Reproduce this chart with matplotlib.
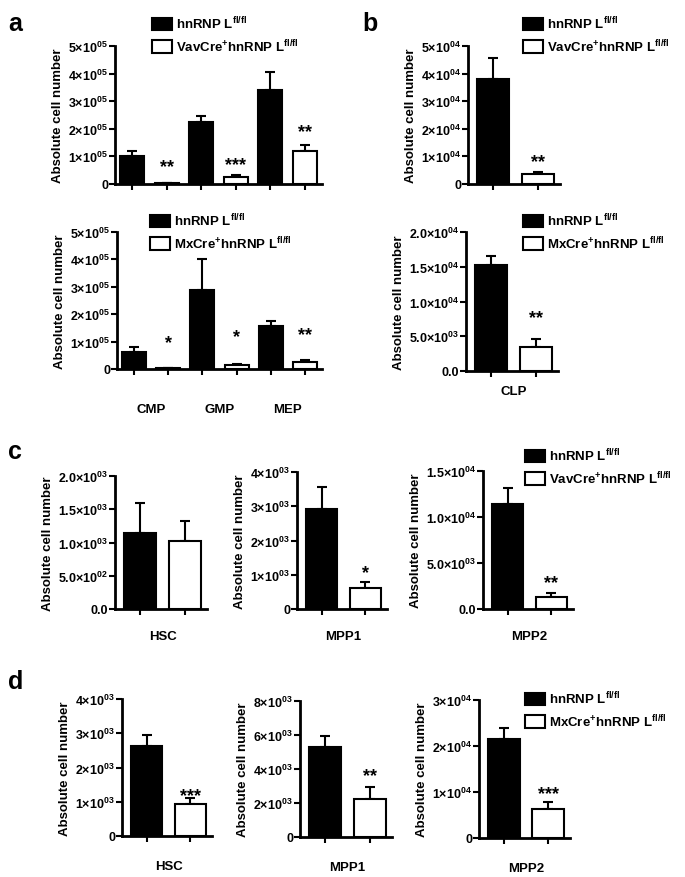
import matplotlib
matplotlib.use('Agg')
import matplotlib.pyplot as plt

plt.rcParams['font.family'] = ['Liberation Sans', 'DejaVu Sans']
plt.rcParams['font.weight'] = 'bold'
plt.rcParams['mathtext.default'] = 'regular'

W, H = 685, 878

# data
a_cats = ['CMP', 'GMP', 'MEP']
a_vav_ctrl = [1.02e5, 2.25e5, 3.41e5]
a_vav_ctrl_sem = [0.18e5, 0.20e5, 0.65e5]
a_vav_ko = [0.02e5, 0.24e5, 1.18e5]
a_vav_ko_sem = [0.0, 0.09e5, 0.25e5]
a_vav_stars = ['**', '***', '**']
a_vav_star_y = [0.62e5, 0.72e5, 1.9e5]

a_mx_ctrl = [0.63e5, 2.90e5, 1.56e5]
a_mx_ctrl_sem = [0.19e5, 1.12e5, 0.20e5]
a_mx_ko = [0.02e5, 0.16e5, 0.24e5]
a_mx_ko_sem = [0.0, 0.04e5, 0.09e5]
a_mx_stars = ['*', '*', '**']
a_mx_star_y = [0.97e5, 1.17e5, 1.25e5]

b_vav_ctrl, b_vav_ctrl_sem = [3.8e4], [0.78e4]
b_vav_ko, b_vav_ko_sem = [0.36e4], [0.09e4]
b_mx_ctrl, b_mx_ctrl_sem = [1.53e4], [0.13e4]
b_mx_ko, b_mx_ko_sem = [0.34e4], [0.12e4]

c_cats = ['HSC', 'MPP1', 'MPP2']
c_ctrl = [1.14e3, 2.93e3, 11.45e3]
c_ctrl_sem = [0.46e3, 0.64e3, 1.75e3]
c_ko = [1.02e3, 0.61e3, 1.34e3]
c_ko_sem = [0.31e3, 0.17e3, 0.36e3]
c_stars = ['', '*', '**']
c_star_y = [0, 1.05e3, 2.9e3]

d_cats = ['HSC', 'MPP1', 'MPP2']
d_ctrl = [2.62e3, 5.3e3, 2.15e4]
d_ctrl_sem = [0.34e3, 0.65e3, 0.25e4]
d_ko = [0.92e3, 2.24e3, 0.63e4]
d_ko_sem = [0.18e3, 0.73e3, 0.16e4]
d_stars = ['***', '**', '***']
d_star_y = [1.18e3, 3.6e3, 0.97e4]

ctrl_label = 'hnRNP L$^{fl/fl}$'
vav_label = 'VavCre$^{+}$hnRNP L$^{fl/fl}$'
mx_label = 'MxCre$^{+}$hnRNP L$^{fl/fl}$'


def sci(v, exp, dec):
    if v == 0:
        return '0.0' if dec else '0'
    m = v / 10 ** exp
    s = f'{m:.1f}' if dec else f'{m:.0f}'
    return s + '×10$^{' + f'{exp:02d}' + '}$'


def make_ax(left, right, y0, top):
    return fig.add_axes([left / W, 1 - y0 / H, (right - left) / W, (y0 - top) / H])


def draw(ax, ctrl, ctrl_sem, ko, ko_sem, ticks, labels, stars, star_y):
    n = len(ctrl)
    xc = [2 * i for i in range(n)]
    xk = [2 * i + 1 for i in range(n)]
    w = 0.7 if n > 1 else 0.72
    bc = ax.bar(xc, ctrl, w, color='black', edgecolor='black', linewidth=1.5, zorder=2)
    bk = ax.bar(xk, ko, w, color='white', edgecolor='black', linewidth=1.5, zorder=2)
    ax.errorbar(xc, ctrl, yerr=[[0] * n, ctrl_sem], fmt='none', ecolor='black',
                elinewidth=1.5, capsize=3.6, capthick=1.5, zorder=1)
    ax.errorbar(xk, ko, yerr=[[0] * n, ko_sem], fmt='none', ecolor='black',
                elinewidth=1.5, capsize=3.6, capthick=1.5, zorder=1)
    for x, s, y in zip(xk, stars, star_y):
        if s:
            ax.text(x, y, s, ha='center', va='center', fontsize=13, fontweight='bold')
    ax.set_ylim(ticks[0], ticks[-1])
    ax.set_yticks(ticks)
    ax.set_yticklabels(labels, fontsize=9, fontweight='bold')
    ax.set_xticks(sorted(xc + xk))
    ax.set_xticklabels([])
    if n > 1:
        ax.set_xlim(-0.5, 2 * n - 0.5)
    else:
        ax.set_xlim(-0.57, 1.5)
    for sp in ['top', 'right']:
        ax.spines[sp].set_visible(False)
    for sp in ['left', 'bottom']:
        ax.spines[sp].set_linewidth(2)
    ax.tick_params(direction='out', length=4, width=1.5, pad=1)
    ax.set_ylabel('Absolute cell number', fontsize=9.5, fontweight='bold', labelpad=3)
    return bc, bk


def cat_label(ax, x, text, dy):
    ax.annotate(text, xy=(x, 0), xycoords=('data', 'axes fraction'),
                xytext=(0, -dy * 0.72), textcoords='offset points',
                ha='center', va='center', fontsize=9.5, fontweight='bold')


def legend(handles, labels, x, y):
    fig.legend(handles, labels, loc='upper left', bbox_to_anchor=(x / W, 1 - y / H),
               frameon=False, fontsize=9.5, borderpad=0, borderaxespad=0,
               handlelength=1.5, handleheight=1.1, handletextpad=0.3, labelspacing=0.45)


fig = plt.figure(figsize=(6.85, 8.78), dpi=100)

# a
ax = make_ax(115, 322, 185, 47)
t = [0, 1e5, 2e5, 3e5, 4e5, 5e5]
h = draw(ax, a_vav_ctrl, a_vav_ctrl_sem, a_vav_ko, a_vav_ko_sem,
         t, [sci(v, 5, False) for v in t], a_vav_stars, a_vav_star_y)
legend(h, [ctrl_label, vav_label], 152, 16)

ax = make_ax(117, 322, 370, 233)
h = draw(ax, a_mx_ctrl, a_mx_ctrl_sem, a_mx_ko, a_mx_ko_sem,
         t, [sci(v, 5, False) for v in t], a_mx_stars, a_mx_star_y)
for i, c in enumerate(a_cats):
    cat_label(ax, 2 * i + 0.5, c, 40)
legend(h, [ctrl_label, mx_label], 150, 213)

# b
ax = make_ax(468, 560, 185, 47)
t = [0, 1e4, 2e4, 3e4, 4e4, 5e4]
h = draw(ax, b_vav_ctrl, b_vav_ctrl_sem, b_vav_ko, b_vav_ko_sem,
         t, [sci(v, 4, False) for v in t], ['**'], [0.8e4])
legend(h, [ctrl_label, vav_label], 523, 16)

ax = make_ax(466, 558, 372, 233)
t = [0, 5e3, 1e4, 1.5e4, 2e4]
h = draw(ax, b_mx_ctrl, b_mx_ctrl_sem, b_mx_ko, b_mx_ko_sem,
         t, ['0.0', sci(5e3, 3, True), sci(1e4, 4, True), sci(1.5e4, 4, True), sci(2e4, 4, True)],
         ['**'], [7.7e3])
cat_label(ax, 0.5, 'CLP', 20)
legend(h, [ctrl_label, mx_label], 523, 213)

# c
c_pos = [(115, 207, 610, 477), (297, 387, 610, 473), (483, 573, 610, 472)]
c_ticks = [[0, 500, 1000, 1500, 2000], [0, 1e3, 2e3, 3e3, 4e3], [0, 5e3, 1e4, 1.5e4]]
c_labels = [['0.0', sci(500, 2, True), sci(1e3, 3, True), sci(1.5e3, 3, True), sci(2e3, 3, True)],
            [sci(v, 3, False) for v in c_ticks[1]],
            ['0.0', sci(5e3, 3, True), sci(1e4, 4, True), sci(1.5e4, 4, True)]]
for i in range(3):
    ax = make_ax(*c_pos[i])
    h = draw(ax, [c_ctrl[i]], [c_ctrl_sem[i]], [c_ko[i]], [c_ko_sem[i]],
             c_ticks[i], c_labels[i], [c_stars[i]], [c_star_y[i]])
    cat_label(ax, 0.5, c_cats[i], 27)
legend(h, [ctrl_label, vav_label], 525, 448)

# d
d_pos = [(122, 212, 837, 700), (300, 392, 838, 702), (479, 570, 839, 701)]
d_ticks = [[0, 1e3, 2e3, 3e3, 4e3], [0, 2e3, 4e3, 6e3, 8e3], [0, 1e4, 2e4, 3e4]]
d_exp = [3, 3, 4]
for i in range(3):
    ax = make_ax(*d_pos[i])
    h = draw(ax, [d_ctrl[i]], [d_ctrl_sem[i]], [d_ko[i]], [d_ko_sem[i]],
             d_ticks[i], [sci(v, d_exp[i], False) for v in d_ticks[i]], [d_stars[i]], [d_star_y[i]])
    cat_label(ax, 0.5, d_cats[i], 30)
legend(h, [ctrl_label, mx_label], 525, 691)

# panel letters
for x, y, s in [(8, 24, 'a'), (362, 24, 'b'), (8, 452, 'c'), (8, 682, 'd')]:
    fig.text(x / W, 1 - y / H, s, fontsize=18, fontweight='bold', va='center', ha='left')

fig.savefig('out.png', dpi=100)
